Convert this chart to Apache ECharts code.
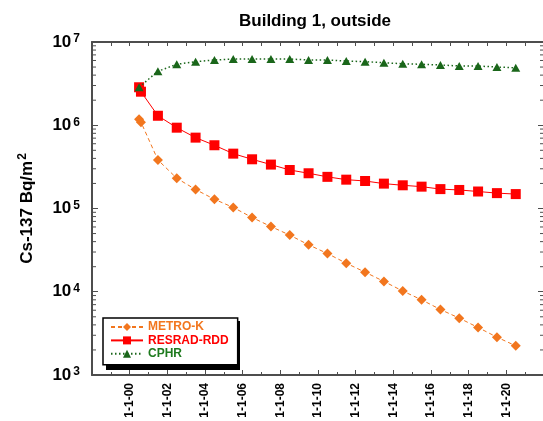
<!DOCTYPE html>
<html>
<head>
<meta charset="utf-8">
<script src="https://cdn.jsdelivr.net/npm/echarts@6/dist/echarts.min.js"></script>
<style>
html,body{margin:0;padding:0;background:#fff;}
#chart{width:543px;height:421px;}
</style>
</head>
<body>
<div id="chart"></div>
<script>
// ---- data ----
const seriesNames = ['METRO-K', 'RESRAD-RDD', 'CPHR'];
const yearsAB = [2000.5, 2000.6, 2001.5, 2002.5, 2003.5, 2004.5, 2005.5, 2006.5, 2007.5, 2008.5, 2009.5,
  2010.5, 2011.5, 2012.5, 2013.5, 2014.5, 2015.5, 2016.5, 2017.5, 2018.5, 2019.5, 2020.5];
const yearsC = [2000.5, 2001.5, 2002.5, 2003.5, 2004.5, 2005.5, 2006.5, 2007.5, 2008.5, 2009.5,
  2010.5, 2011.5, 2012.5, 2013.5, 2014.5, 2015.5, 2016.5, 2017.5, 2018.5, 2019.5, 2020.5];
const metroK = [1.18e6, 1.09e6, 3.83e5, 2.31e5, 1.69e5, 1.29e5, 1.03e5, 7.8e4, 6.07e4, 4.79e4, 3.66e4,
  2.88e4, 2.20e4, 1.72e4, 1.33e4, 1.02e4, 8.0e3, 6.12e3, 4.82e3, 3.72e3, 2.85e3, 2.24e3];
const resrad = [2.86e6, 2.53e6, 1.30e6, 9.35e5, 7.1e5, 5.75e5, 4.56e5, 3.9e5, 3.37e5, 2.9e5, 2.65e5,
  2.4e5, 2.22e5, 2.14e5, 1.99e5, 1.90e5, 1.83e5, 1.71e5, 1.67e5, 1.60e5, 1.53e5, 1.49e5];
const cphr = [2.86e6, 4.45e6, 5.4e6, 5.8e6, 6.08e6, 6.25e6, 6.25e6, 6.25e6, 6.25e6, 6.08e6,
  6.08e6, 5.91e6, 5.8e6, 5.64e6, 5.48e6, 5.4e6, 5.3e6, 5.15e6, 5.15e6, 5.0e6, 4.9e6];
const xTickLabels = ['1-1-00', '1-1-02', '1-1-04', '1-1-06', '1-1-08', '1-1-10',
  '1-1-12', '1-1-14', '1-1-16', '1-1-18', '1-1-20'];
const yDecades = [1e3, 1e4, 1e5, 1e6];
const minorMult = [2, 3, 4, 5, 6, 7, 8, 9];

// ---- chart ----
const X_MIN = 1998, X_MAX = 2022;
const AX = '#4d4d4d';
const FONT = 'Liberation Sans, Arial, sans-serif';
const colors = ['#F2761E', '#FF0000', '#1A661A'];
const textColors = ['#F2761E', '#FF0000', '#1E7A1E'];

const yMinor = [];
yDecades.forEach(d => minorMult.forEach(m => yMinor.push(d * m)));

const chart = echarts.init(document.getElementById('chart'), null, {renderer: 'canvas'});
chart.setOption({
  animation: false,
  backgroundColor: '#fff',
  textStyle: {fontFamily: FONT},
  title: {
    text: 'Building 1, outside',
    left: 234, top: 8,
    textStyle: {fontFamily: FONT, fontSize: 17, fontWeight: 'bold', color: '#000'}
  },
  grid: {left: 92, width: 452, top: 42, bottom: 46, containLabel: false, outerBoundsMode: 'none'},
  graphic: [{
    type: 'rect', z: 90, silent: true,
    left: 106, top: 321,
    shape: {width: 134, height: 49},
    style: {fill: '#000'}
  }],
  legend: {
    orient: 'vertical',
    left: 103, top: 318, z: 100,
    padding: [3, 9, 5, 7],
    itemWidth: 32, itemHeight: 10, itemGap: 1.4,
    backgroundColor: '#fff',
    borderColor: '#000', borderWidth: 1.5,
    textStyle: {fontFamily: FONT, fontSize: 12, fontWeight: 'bold'},
    data: seriesNames.map((n, i) => ({name: n, textStyle: {color: textColors[i]}}))
  },
  xAxis: [{
    type: 'value', position: 'bottom',
    min: X_MIN, max: X_MAX, interval: 2,
    axisLine: {show: true, lineStyle: {color: AX, width: 2}},
    axisTick: {show: true, inside: true, length: 5, lineStyle: {color: AX, width: 1}},
    minorTick: {show: true, splitNumber: 2, length: 3, lineStyle: {color: AX, width: 1}},
    splitLine: {show: false},
    axisLabel: {
      show: true, rotate: 90, margin: 8,
      fontFamily: FONT, fontSize: 12, fontWeight: 'bold', color: '#000',
      formatter: v => {
        const i = Math.round((v - 2000) / 2);
        return (i >= 0 && i < xTickLabels.length) ? xTickLabels[i] : '';
      }
    }
  }, {
    type: 'value', position: 'top',
    min: X_MIN, max: X_MAX, interval: 1,
    axisLine: {show: true, lineStyle: {color: AX, width: 2}},
    axisTick: {show: true, inside: true, length: 4, lineStyle: {color: AX, width: 1}},
    axisLabel: {show: false},
    splitLine: {show: false}
  }],
  yAxis: [{
    type: 'log', logBase: 10, position: 'left',
    min: 1e3, max: 1e7,
    name: 'Cs-137 Bq/m{s|2}',
    nameLocation: 'middle', nameGap: 54,
    nameTextStyle: {
      fontFamily: FONT, fontSize: 17, fontWeight: 'bold', color: '#000',
      rich: {s: {fontFamily: FONT, fontSize: 12, fontWeight: 'bold', color: '#000', padding: [0, 0, 9, 1]}}
    },
    axisLine: {show: true, lineStyle: {color: AX, width: 2}},
    axisTick: {show: true, inside: true, length: 6, lineStyle: {color: AX, width: 1}},
    splitLine: {show: false},
    axisLabel: {
      margin: 12,
      formatter: v => '{b|10}{s|' + Math.round(Math.log10(v)) + '}',
      rich: {
        b: {fontFamily: FONT, fontSize: 17, fontWeight: 'bold', color: '#000'},
        s: {fontFamily: FONT, fontSize: 12, fontWeight: 'bold', color: '#000', padding: [0, 0, 6, 2]}
      }
    }
  }, {
    type: 'log', logBase: 10, position: 'right',
    min: 1e3, max: 1e7,
    axisLine: {show: true, lineStyle: {color: AX, width: 2}},
    axisTick: {show: true, inside: true, length: 6, lineStyle: {color: AX, width: 1}},
    axisLabel: {show: false},
    splitLine: {show: false}
  }],
  series: [{
    name: 'minorTicks', type: 'custom', silent: true,
    xAxisIndex: 0, yAxisIndex: 0, clip: false, z: 1,
    data: yMinor.map(v => [X_MIN, v]),
    encode: {x: 0, y: 1},
    renderItem: (params, api) => {
      const v = api.value(1);
      const pL = api.coord([X_MIN, v]);
      const pR = api.coord([X_MAX, v]);
      const st = {stroke: AX, lineWidth: 1};
      return {type: 'group', children: [
        {type: 'line', shape: {x1: pL[0], y1: pL[1], x2: pL[0] + 4, y2: pL[1]}, style: st},
        {type: 'line', shape: {x1: pR[0], y1: pR[1], x2: pR[0] - 4, y2: pR[1]}, style: st}
      ]};
    }
  }, {
    name: seriesNames[0], type: 'line',
    data: yearsAB.map((x, i) => [x, metroK[i]]),
    symbol: 'diamond', symbolSize: 10,
    itemStyle: {color: colors[0]},
    lineStyle: {color: colors[0], width: 1, type: [4, 3]},
    z: 3
  }, {
    name: seriesNames[1], type: 'line',
    data: yearsAB.map((x, i) => [x, resrad[i]]),
    symbol: 'rect', symbolSize: 10,
    itemStyle: {color: colors[1]},
    lineStyle: {color: colors[1], width: 1, type: 'solid'},
    z: 4
  }, {
    name: seriesNames[2], type: 'line',
    data: yearsC.map((x, i) => [x, cphr[i]]),
    symbol: 'triangle', symbolSize: [9, 8],
    itemStyle: {color: colors[2]},
    lineStyle: {color: colors[2], width: 1.5, type: [1.5, 2.5]},
    z: 5
  }]
});
</script>
</body>
</html>
